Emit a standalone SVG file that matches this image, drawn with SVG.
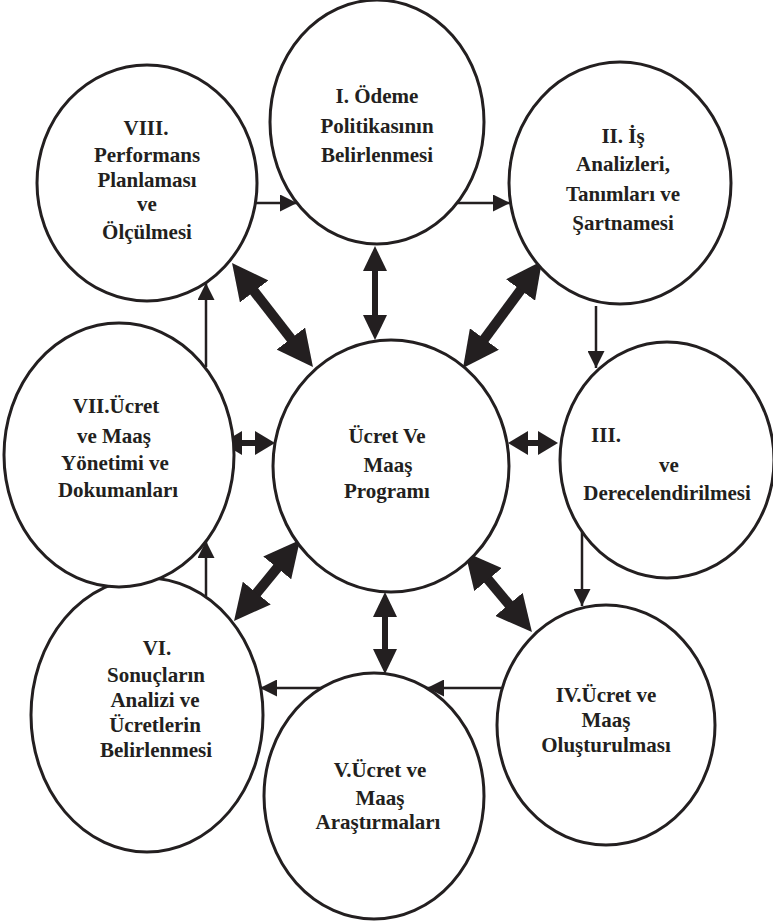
<svg xmlns="http://www.w3.org/2000/svg" width="773" height="921" viewBox="0 0 773 921">
  <style>
    .node ellipse { fill: #ffffff; stroke: #231f20; stroke-width: 3; }
    .node text { font-family: "Liberation Serif", "Times New Roman", serif; font-size: 21px; font-weight: bold; fill: #231f20; text-anchor: middle; }
    .flow { stroke: #231f20; stroke-width: 2.5; fill: none; marker-end: url(#head-thin); }
    .link-thick { stroke: #231f20; stroke-width: 10; marker-start: url(#head-thick); marker-end: url(#head-thick); }
    .link-mid { stroke: #231f20; stroke-width: 6; marker-start: url(#head-mid); marker-end: url(#head-mid); }
    .link-small { stroke: #231f20; stroke-width: 6; marker-start: url(#head-small); marker-end: url(#head-small); }
  </style>
  <defs>
    <marker id="head-thin" viewBox="0 0 17 17" refX="17" refY="8.5" markerWidth="17" markerHeight="17" markerUnits="userSpaceOnUse" orient="auto-start-reverse">
      <path d="M0,0 L17,8.5 L0,17 z" fill="#231f20"/>
    </marker>
    <marker id="head-thick" viewBox="0 0 36 36" refX="18" refY="18" markerWidth="36" markerHeight="36" markerUnits="userSpaceOnUse" orient="auto-start-reverse">
      <path d="M0,0 L36,18 L0,36 z" fill="#231f20"/>
    </marker>
    <marker id="head-mid" viewBox="0 0 25 24" refX="12.5" refY="12" markerWidth="25" markerHeight="24" markerUnits="userSpaceOnUse" orient="auto-start-reverse">
      <path d="M0,0 L25,12 L0,24 z" fill="#231f20"/>
    </marker>
    <marker id="head-small" viewBox="0 0 20 24" refX="10" refY="12" markerWidth="20" markerHeight="24" markerUnits="userSpaceOnUse" orient="auto-start-reverse">
      <path d="M0,0 L20,12 L0,24 z" fill="#231f20"/>
    </marker>
  </defs>

  <!-- outer cycle, hub spokes -->
  <g id="connectors">
    <line class="flow" x1="255" y1="203" x2="297" y2="203"/>
    <line class="flow" x1="457" y1="203" x2="510" y2="203"/>
    <line class="flow" x1="596" y1="306" x2="596" y2="368"/>
    <line class="flow" x1="582" y1="532" x2="582" y2="606"/>
    <line class="flow" x1="502" y1="688" x2="427" y2="688"/>
    <line class="flow" x1="321" y1="688" x2="260" y2="688"/>
    <line class="flow" x1="206" y1="596" x2="206" y2="541"/>
    <line class="flow" x1="206" y1="367" x2="206" y2="283"/>

    <line class="link-mid" x1="375" y1="258.5" x2="375" y2="327.5"/>
    <line class="link-thick" x1="243.1" y1="277.2" x2="301.9" y2="352.8"/>
    <line class="link-thick" x1="531.3" y1="275.5" x2="473.7" y2="353.5"/>
    <line class="link-small" x1="232" y1="443" x2="265" y2="443"/>
    <line class="link-small" x1="518" y1="443" x2="548" y2="443"/>
    <line class="link-thick" x1="288.6" y1="554" x2="245.4" y2="607"/>
    <line class="link-thick" x1="476.6" y1="565.8" x2="520.4" y2="618.2"/>
    <line class="link-mid" x1="385" y1="604.5" x2="385" y2="661.5"/>
  </g>

  <g id="node-1" class="node">
    <ellipse cx="377" cy="122" rx="107" ry="122"/>
    <text x="377" y="103">I. Ödeme</text>
    <text x="377" y="133">Politikasının</text>
    <text x="377" y="162">Belirlenmesi</text>
  </g>

  <g id="node-2" class="node">
    <ellipse cx="620" cy="183" rx="111" ry="121"/>
    <text x="623" y="143">II. İş</text>
    <text x="623" y="171">Analizleri,</text>
    <text x="623" y="201">Tanımları ve</text>
    <text x="623" y="230">Şartnamesi</text>
  </g>

  <g id="node-3" class="node">
    <ellipse cx="667" cy="460" rx="107" ry="118"/>
    <text x="606" y="442">III.</text>
    <text x="669" y="472">ve</text>
    <text x="667" y="500">Derecelendirilmesi</text>
  </g>

  <g id="node-4" class="node">
    <ellipse cx="606" cy="725" rx="109" ry="120"/>
    <text x="606" y="702">IV.Ücret ve</text>
    <text x="606" y="727">Maaş</text>
    <text x="606" y="752">Oluşturulması</text>
  </g>

  <g id="node-5" class="node">
    <ellipse cx="374" cy="796" rx="110" ry="123"/>
    <text x="380" y="777">V.Ücret ve</text>
    <text x="380" y="805">Maaş</text>
    <text x="378" y="829">Araştırmaları</text>
  </g>

  <g id="node-6" class="node">
    <ellipse cx="147" cy="715" rx="116" ry="137"/>
    <text x="157" y="655">VI.</text>
    <text x="156" y="682">Sonuçların</text>
    <text x="155" y="707">Analizi ve</text>
    <text x="155" y="732">Ücretlerin</text>
    <text x="156" y="757">Belirlenmesi</text>
  </g>

  <g id="node-7" class="node">
    <ellipse cx="119" cy="455" rx="115" ry="132"/>
    <text x="116" y="413">VII.Ücret</text>
    <text x="114" y="443">ve Maaş</text>
    <text x="115" y="470">Yönetimi ve</text>
    <text x="118" y="497">Dokumanları</text>
  </g>

  <g id="node-8" class="node">
    <ellipse cx="147" cy="183" rx="110" ry="118"/>
    <text x="146" y="135">VIII.</text>
    <text x="147" y="162">Performans</text>
    <text x="147" y="187">Planlaması</text>
    <text x="147" y="211">ve</text>
    <text x="147" y="239">Ölçülmesi</text>
  </g>

  <g id="node-hub" class="node">
    <ellipse cx="391" cy="466" rx="118" ry="126"/>
    <text x="387" y="443">Ücret Ve</text>
    <text x="388" y="472">Maaş</text>
    <text x="387" y="498">Programı</text>
  </g>
</svg>
